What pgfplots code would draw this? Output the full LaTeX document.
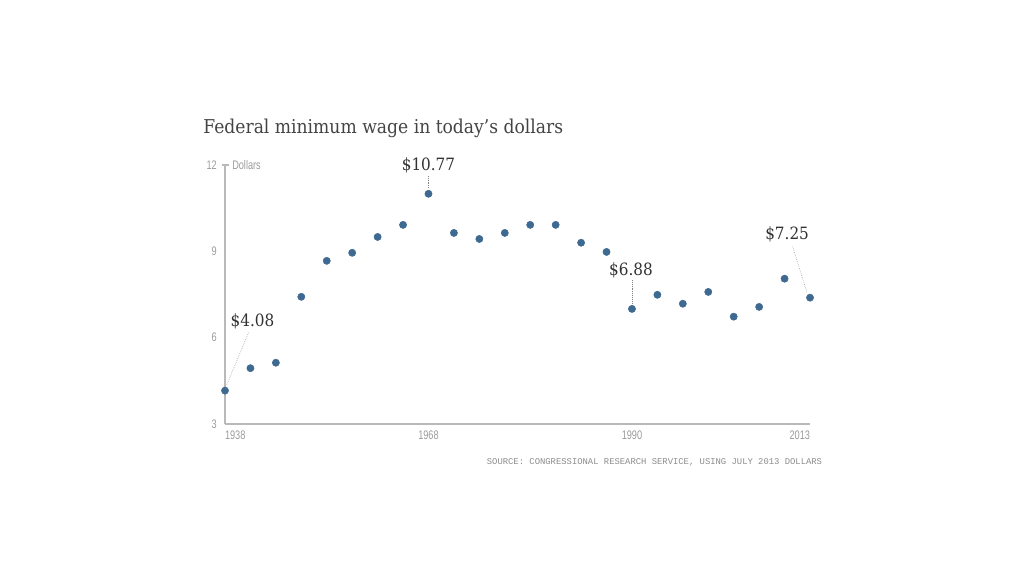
\documentclass[border=0pt]{standalone}
\usepackage{pgfplots}
\pgfplotsset{compat=1.18}
\usepackage{fontspec}
\setmainfont{Liberation Serif}
\newfontfamily\titlef[FakeStretch=0.9]{DejaVu Serif}
\newfontfamily\cond[FakeStretch=0.74]{Liberation Sans}
\newfontfamily\monof{Liberation Mono}
\definecolor{dot}{RGB}{62,106,145}
\definecolor{axisgray}{RGB}{185,185,185}
\definecolor{ticktext}{RGB}{155,155,155}
\definecolor{titlec}{RGB}{68,68,68}
\definecolor{annot}{RGB}{50,50,50}
\begin{document}
\begin{tikzpicture}[x=0.75pt,y=0.75pt]
\path[use as bounding box] (0,0) rectangle (1024,576);
\node[anchor=base west, text=titlec, font=\titlef\fontsize{14.3}{17}\selectfont, inner sep=0] at (203,442) {Federal minimum wage in today’s dollars};
\node[text=ticktext!90!black, font=\monof\fontsize{6.65}{8}\selectfont, inner sep=0] at (654.5,114) {SOURCE: CONGRESSIONAL RESEARCH SERVICE, USING JULY 2013 DOLLARS};
\begin{axis}[
  at={(168.75pt,114pt)}, anchor=south west,
  scale only axis, width=438.75pt, height=194.25pt,
  xmin=0, xmax=23, ymin=3, ymax=12,
  clip=false,
  axis lines*=left,
  axis line style={draw=axisgray, line width=0.8pt, -},
  major tick length=0pt,
  ytick={3,6,9,12},
  xtick={0,8,16,23},
  xticklabels={{\makebox[0pt][l]{1938}},1968,1990,{\makebox[0pt][r]{2013}}},
  /pgf/number format/assume math mode=true,
  yticklabel style={font=\cond\fontsize{9.3}{10}\selectfont, text=ticktext, inner sep=0pt, xshift=-6pt},
  xticklabel style={font=\cond\fontsize{9.3}{10}\selectfont, text=ticktext, inner sep=0pt, yshift=-5pt},
  extra y ticks={12},
  extra y tick labels={},
  extra y tick style={major tick length=5.25pt, tick align=center, tick style={draw=axisgray, line width=0.8pt}},
]
\addplot[only marks, mark=*, mark size=2.7pt, mark options={fill=dot, draw=dot}] coordinates {
(0,4.16) (1,4.94) (2,5.13) (3,7.42) (4,8.67) (5,8.95) (6,9.50) (7,9.92)
(8,11.00) (9,9.64) (10,9.43) (11,9.64) (12,9.92) (13,9.92) (14,9.30) (15,8.98)
(16,7.00) (17,7.49) (18,7.18) (19,7.59) (20,6.73) (21,7.07) (22,8.05) (23,7.39)
};
\node[anchor=west, font=\cond\fontsize{9.3}{10}\selectfont, text=ticktext, inner sep=0] at (axis cs:0,12) [xshift=5.25pt] {Dollars};
\draw[densely dotted, gray, line width=0.4pt] (axis cs:0.07,4.36) -- (axis cs:0.94,6.21);
\draw[densely dotted, gray, line width=0.4pt] (axis cs:8.0,11.62) -- (axis cs:8.0,11.20);
\draw[densely dotted, gray, line width=0.4pt] (axis cs:16.0,8.0) -- (axis cs:16.0,7.20);
\draw[densely dotted, gray, line width=0.4pt] (axis cs:22.32,9.16) -- (axis cs:22.87,7.60);
\node[font=\titlef\fontsize{12.7}{15}\selectfont, text=annot, inner sep=0] at (axis cs:1.08,6.58) {\$4.08};
\node[font=\titlef\fontsize{12.7}{15}\selectfont, text=annot, inner sep=0] at (axis cs:8.0,12.0) {\$10.77};
\node[font=\titlef\fontsize{12.7}{15}\selectfont, text=annot, inner sep=0] at (axis cs:15.96,8.35) {\$6.88};
\node[font=\titlef\fontsize{12.7}{15}\selectfont, text=annot, inner sep=0] at (axis cs:22.1,9.60) {\$7.25};
\end{axis}
\end{tikzpicture}
\end{document}
